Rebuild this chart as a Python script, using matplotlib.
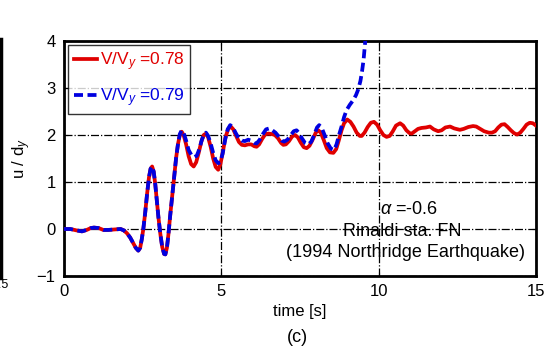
import matplotlib.pyplot as plt
from matplotlib.lines import Line2D

plt.rcParams['font.family'] = 'Liberation Sans'
plt.rcParams['mathtext.fontset'] = 'custom'
plt.rcParams['mathtext.rm'] = 'Liberation Sans'
plt.rcParams['mathtext.it'] = 'Liberation Sans:italic'

# valores: tempo [s] e u/dy
t_red = [0.0, 0.2, 0.4, 0.57, 0.72, 0.85, 0.95, 1.1, 1.25, 1.4, 1.6, 1.8,
         1.9, 2.0, 2.1, 2.2, 2.28, 2.36, 2.42, 2.47, 2.52, 2.58, 2.64, 2.7,
         2.75, 2.8, 2.85, 2.9, 2.95, 3.0, 3.06, 3.12, 3.18, 3.22, 3.27, 3.32,
         3.37, 3.43, 3.5, 3.56, 3.62, 3.68, 3.74, 3.8, 3.88, 3.96, 4.04, 4.12,
         4.2, 4.28, 4.36, 4.44, 4.51, 4.58, 4.66, 4.74, 4.82, 4.9, 4.97, 5.05,
         5.13, 5.22, 5.3, 5.38, 5.47, 5.56, 5.65, 5.75, 5.85, 5.95, 6.05, 6.12,
         6.2, 6.3, 6.4, 6.5, 6.6, 6.7, 6.8, 6.9, 6.97, 7.05, 7.15, 7.25, 7.34,
         7.43, 7.52, 7.62, 7.71, 7.8, 7.9, 8.0, 8.08, 8.16, 8.25, 8.35, 8.45,
         8.56, 8.65, 8.73, 8.82, 8.9, 9.0, 9.1, 9.2, 9.3, 9.4, 9.46, 9.55,
         9.65, 9.75, 9.85, 9.95, 10.05, 10.15, 10.25, 10.35, 10.45, 10.55,
         10.68, 10.78, 10.88, 10.98, 11.05, 11.15, 11.25, 11.36, 11.5, 11.63,
         11.75, 11.89, 12.0, 12.12, 12.27, 12.4, 12.58, 12.7, 12.85, 13.0,
         13.1, 13.2, 13.35, 13.5, 13.6, 13.7, 13.8, 13.9, 14.0, 14.1, 14.2,
         14.3, 14.4, 14.5, 14.6, 14.7, 14.8, 14.9, 15.0]
u_red = [0.0, 0.0, -0.03, -0.05, -0.02, 0.02, 0.03, 0.02, -0.02, -0.02, -0.01,
         0.0, -0.03, -0.09, -0.18, -0.3, -0.4, -0.46, -0.4, -0.22, 0.0, 0.35,
         0.75, 1.1, 1.28, 1.33, 1.22, 0.95, 0.6, 0.25, -0.1, -0.38, -0.53,
         -0.54, -0.4, -0.1, 0.26, 0.65, 1.1, 1.5, 1.8, 2.0, 2.07, 2.0, 1.8,
         1.55, 1.38, 1.33, 1.42, 1.62, 1.85, 2.0, 2.03, 1.95, 1.75, 1.5, 1.32,
         1.26, 1.38, 1.65, 1.95, 2.13, 2.18, 2.12, 1.98, 1.85, 1.79, 1.78, 1.8,
         1.8, 1.76, 1.75, 1.8, 1.92, 2.02, 2.03, 2.02, 2.0, 1.93, 1.83, 1.79,
         1.8, 1.87, 1.97, 2.0, 1.95, 1.84, 1.74, 1.72, 1.77, 1.9, 2.05, 2.1,
         2.05, 1.9, 1.72, 1.63, 1.62, 1.7, 1.88, 2.1, 2.25, 2.33, 2.28, 2.18,
         2.05, 1.98, 1.98, 2.05, 2.17, 2.26, 2.28, 2.22, 2.1, 2.0, 1.96, 1.98,
         2.08, 2.2, 2.25, 2.2, 2.1, 2.04, 2.03, 2.08, 2.13, 2.15, 2.16, 2.18,
         2.12, 2.08, 2.1, 2.16, 2.18, 2.14, 2.11, 2.13, 2.17, 2.19, 2.18, 2.14,
         2.08, 2.05, 2.05, 2.08, 2.16, 2.22, 2.23, 2.17, 2.1, 2.04, 2.01, 2.05,
         2.13, 2.22, 2.26, 2.25, 2.2]

t_blue = [0.0, 0.2, 0.4, 0.57, 0.72, 0.85, 0.95, 1.1, 1.25, 1.4, 1.6, 1.8,
          1.9, 2.0, 2.1, 2.2, 2.28, 2.36, 2.42, 2.47, 2.52, 2.58, 2.64, 2.7,
          2.75, 2.8, 2.85, 2.9, 2.95, 3.0, 3.06, 3.12, 3.18, 3.22, 3.27, 3.32,
          3.37, 3.43, 3.5, 3.56, 3.62, 3.68, 3.74, 3.8, 3.88, 3.96, 4.05, 4.14,
          4.22, 4.3, 4.38, 4.45, 4.51, 4.58, 4.66, 4.74, 4.82, 4.9, 4.96, 5.04,
          5.12, 5.2, 5.28, 5.36, 5.45, 5.55, 5.65, 5.75, 5.85, 5.95, 6.05,
          6.12, 6.22, 6.32, 6.42, 6.52, 6.62, 6.72, 6.82, 6.92, 7.0, 7.1, 7.2,
          7.3, 7.39, 7.47, 7.56, 7.66, 7.77, 7.86, 7.96, 8.04, 8.11, 8.19,
          8.28, 8.38, 8.48, 8.58, 8.66, 8.74, 8.82, 8.9, 8.98, 9.08, 9.19,
          9.28, 9.35, 9.42, 9.47, 9.52, 9.56, 9.6]
u_blue = [0.0, 0.0, -0.03, -0.05, -0.02, 0.02, 0.03, 0.02, -0.02, -0.02,
          -0.01, 0.0, -0.03, -0.09, -0.18, -0.3, -0.4, -0.46, -0.4, -0.22, 0.0,
          0.35, 0.75, 1.1, 1.28, 1.33, 1.22, 0.95, 0.6, 0.25, -0.1, -0.38,
          -0.53, -0.54, -0.4, -0.1, 0.26, 0.65, 1.1, 1.5, 1.8, 2.02, 2.1, 2.05,
          1.88, 1.68, 1.57, 1.53, 1.56, 1.7, 1.9, 2.02, 2.05, 1.98, 1.82, 1.62,
          1.46, 1.4, 1.42, 1.6, 1.9, 2.12, 2.21, 2.17, 2.05, 1.93, 1.88, 1.87,
          1.9, 1.88, 1.83, 1.82, 1.9, 2.02, 2.12, 2.14, 2.1, 2.05, 1.97, 1.88,
          1.86, 1.9, 1.99, 2.08, 2.1, 2.04, 1.93, 1.83, 1.8, 1.86, 2.02, 2.16,
          2.21, 2.15, 2.0, 1.82, 1.71, 1.68, 1.8, 2.0, 2.18, 2.38, 2.53, 2.64,
          2.74, 2.85, 2.97, 3.15, 3.35, 3.6, 3.9, 4.2]

labels = [r'V/V$_y$ =0.78', r'V/V$_y$ =0.79']
red = '#e00000'
blue = '#0000e0'

fig = plt.figure(figsize=(5.51, 3.5), dpi=100)
ax = fig.add_axes([0.1162, 0.2114, 0.8566, 0.6715])

ax.plot(t_red, u_red, color=red, lw=2.7, label=labels[0], zorder=3,
        solid_joinstyle='round')
ax.plot(t_blue, u_blue, color=blue, lw=2.7, ls=(0, (2.4, 1.2)),
        label=labels[1], zorder=4)

ax.set_xlim(0, 15)
ax.set_ylim(-1, 4)
ax.set_xticks([0, 5, 10, 15])
ax.set_yticks([-1, 0, 1, 2, 3, 4])
ax.grid(True, color='black', ls='-.', lw=0.9)
ax.tick_params(direction='in', length=3, labelsize=12, top=True, right=True,
               pad=6)
for s in ax.spines.values():
    s.set_linewidth(2.0)

ax.set_xlabel('time [s]', fontsize=12, labelpad=3)
ax.set_ylabel(r'u / d$_y$', fontsize=12, labelpad=3)

leg = ax.legend(loc='upper left', fontsize=12.5, frameon=True, fancybox=False,
                edgecolor='black', handlelength=1.35, handletextpad=0.15,
                borderpad=0.3, labelspacing=0.75, borderaxespad=0.25)
leg.get_frame().set_linewidth(1.0)
for txt, c in zip(leg.get_texts(), [red, blue]):
    txt.set_color(c)

ax.text(10.96, 0.41, r'$\alpha$ =-0.6', fontsize=13, ha='center',
        va='center', zorder=0.5)
ax.text(10.75, -0.06, 'Rinaldi sta. FN', fontsize=13, ha='center',
        va='center', zorder=0.5)
ax.text(10.84, -0.5, '(1994 Northridge Earthquake)', fontsize=13,
        ha='center', va='center', zorder=0.5)

fig.text(0.54, 0.022, '(c)', fontsize=13, ha='center')

# parte do gráfico vizinho (cortado)
fig.add_artist(Line2D([0.002, 0.002], [0.205, 0.89], color='black', lw=2.5))
fig.text(8 / 551, 1 - 288 / 350, '1.5', fontsize=9, ha='right')

fig.savefig('out.png', dpi=100)
